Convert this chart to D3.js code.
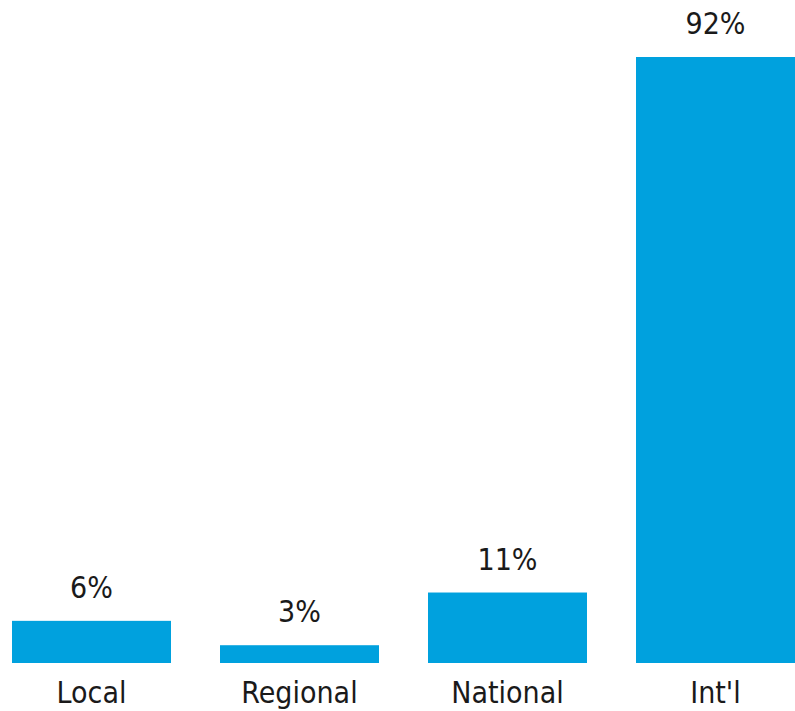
<!DOCTYPE html>
<html>
<head>
<meta charset="utf-8">
<script src="https://cdn.jsdelivr.net/npm/d3@7"></script>
<style>
    body { margin: 0; background: #fff; }
    svg text { font-family: "DejaVu Sans Condensed", "DejaVu Sans", sans-serif; font-stretch: condensed; fill: #1a1a1a; }
</style>
</head>
<body>
<svg width="795" height="711"></svg>
<script>
// Categorias e valores.
const categories = ["Local", "Regional", "National", "Int'l"];
const values = [6.4, 2.7, 10.7, 92];
const valueLabels = ["6%", "3%", "11%", "92%"];

const dataset = categories.map((c, i) => ({ cat: c, value: values[i], label: valueLabels[i] }));

// Dimensões.
const baseline = 663;
const plotTop = 57;

const xScale = d3.scaleBand()
    .domain(categories)
    .range([12, 795])
    .paddingInner(0.2356)
    .paddingOuter(0);

const yScale = d3.scaleLinear()
    .domain([0, d3.max(values)])
    .range([baseline, plotTop]);

const svg = d3.select("svg");

// Barras.
svg.selectAll("rect")
    .data(dataset)
    .enter()
    .append("rect")
    .attr("x", d => xScale(d.cat))
    .attr("y", d => yScale(d.value))
    .attr("width", xScale.bandwidth())
    .attr("height", d => baseline - yScale(d.value))
    .attr("fill", "#00a1de");

// Rótulos de valor.
svg.selectAll(".value")
    .data(dataset)
    .enter()
    .append("text")
    .attr("class", "value")
    .attr("x", d => xScale(d.cat) + xScale.bandwidth() / 2)
    .attr("y", d => yScale(d.value) - 23)
    .attr("text-anchor", "middle")
    .attr("font-size", 30)
    .text(d => d.label);

// Eixo X (só os rótulos).
const xAxis = d3.axisBottom(xScale).tickSize(0).tickPadding(0);
const xAxisGroup = svg.append("g")
    .attr("transform", `translate(0, ${baseline})`)
    .call(xAxis);
xAxisGroup.select(".domain").remove();
xAxisGroup.selectAll("text")
    .attr("dy", null)
    .attr("y", 40)
    .attr("font-size", 30)
    .attr("font-family", null)
    .style("fill", "#1a1a1a");
</script>
</body>
</html>
